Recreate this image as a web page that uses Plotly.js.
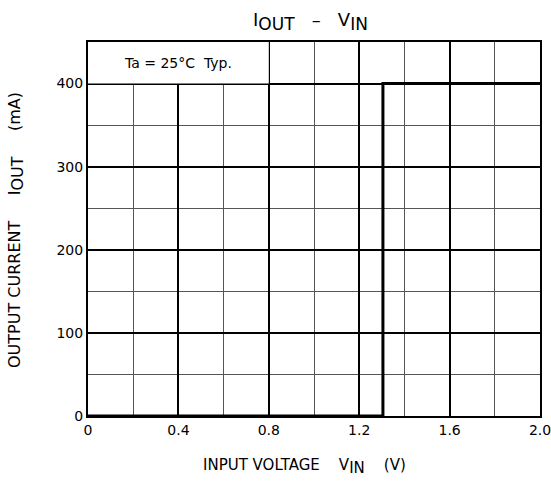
<!DOCTYPE html>
<html><head><meta charset="utf-8">
<script src="https://cdn.plot.ly/plotly-3.0.1.min.js"></script>
<style>body{margin:0;background:#fff}#c{width:551px;height:485px}</style>
</head><body><div id="c"></div>
<script>
const vin = [0, 1.305, 1.305, 2.0];
const iout = [0, 0, 400, 400];
const xTickVals = [0, 0.4, 0.8, 1.2, 1.6, 2.0];
const xTickText = ['0', '0.4', '0.8', '1.2', '1.6', '2.0'];
const yTickVals = [0, 100, 200, 300, 400];
const yTickText = ['0', '100', '200', '300', '400'];
const noteText = 'Ta = 25°C  Typ.';
const titleText = 'I<sub><span style="font-size:17px">OUT</span></sub>   –   V<sub><span style="font-size:17px">IN</span></sub>';
const xTitleText = 'INPUT VOLTAGE    V<sub><span style="font-size:15px">IN</span></sub>    (V)';
const yTitleText = 'OUTPUT CURRENT     I<sub><span style="font-size:16px">OUT</span></sub>     (mA)';

const F = 'DejaVu Sans, Open Sans, sans-serif';
const trace = {x: vin, y: iout, mode: 'lines', line: {color: '#000', width: 3}, hoverinfo: 'skip', cliponaxis: false};
const layout = {
  width: 551, height: 485,
  margin: {l: 88, r: 11, t: 42, b: 69},
  paper_bgcolor: '#fff', plot_bgcolor: '#fff',
  showlegend: false,
  font: {family: F, color: '#000', size: 14},
  xaxis: {range: [0, 2.0], tickvals: xTickVals, ticktext: xTickText, showgrid: true, gridcolor: '#000', gridwidth: 2,
    minor: {dtick: 0.2, tick0: 0, showgrid: true, gridcolor: '#555', gridwidth: 1},
    showline: true, linecolor: '#000', linewidth: 2, mirror: true, zeroline: false, ticks: '', ticklen: 0,
    ticklabeloverflow: 'allow', tickfont: {size: 14, family: F}},
  yaxis: {range: [0, 450], tickvals: yTickVals, ticktext: yTickText, showgrid: true, gridcolor: '#000', gridwidth: 2,
    minor: {dtick: 50, tick0: 0, showgrid: true, gridcolor: '#555', gridwidth: 1},
    showline: true, linecolor: '#000', linewidth: 2, mirror: true, zeroline: false, ticks: '', ticklen: 0,
    ticklabeloverflow: 'allow', tickfont: {size: 14, family: F}},
  shapes: [{type: 'rect', xref: 'x', yref: 'y', x0: 0, x1: 0.8, y0: 400, y1: 450, fillcolor: '#fff', line: {width: 0}, layer: 'between'}],
  annotations: [
    {x: 0.4, y: 425, xref: 'x', yref: 'y', text: noteText, showarrow: false, font: {size: 14, family: F}},
    {x: 311/551, y: 1 - 21/485, xref: 'paper', yref: 'paper', xanchor: 'center', yanchor: 'middle', text: titleText, showarrow: false, font: {size: 18, family: F}},
    {x: 304/551, y: 1 - 467/485, xref: 'paper', yref: 'paper', xanchor: 'center', yanchor: 'middle', text: xTitleText, showarrow: false, font: {size: 15, family: F}},
    {x: 16/551, y: 1 - 230/485, xref: 'paper', yref: 'paper', xanchor: 'center', yanchor: 'middle', textangle: -90, text: yTitleText, showarrow: false, font: {size: 16, family: F}}
  ]
};
// convert figure-pixel positions into plot-area paper coords
const L = 88, R = 11, T = 42, B = 69, W = 551, H = 485;
layout.annotations.slice(1).forEach(a => {
  const px = a.x * W, py = (1 - a.y) * H;
  a.x = (px - L) / (W - L - R);
  a.y = (H - B - py) / (H - T - B);
});
Plotly.newPlot('c', [trace], layout, {staticPlot: true});
</script></body></html>
